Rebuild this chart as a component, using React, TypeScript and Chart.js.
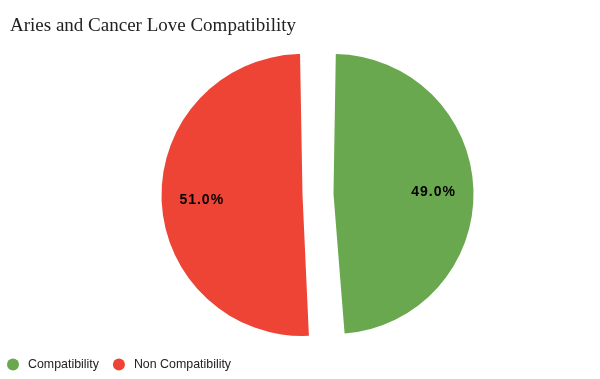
import { useEffect, useRef } from 'react';
import { Chart, registerables } from 'chart.js';

Chart.register(...registerables);

const chartTitle = 'Aries and Cancer Love Compatibility';
const categories = ['Compatibility', 'Non Compatibility'];
const values = [49, 51];
const colors = ['#6aa84f', '#ee4436'];

const shiftAreaPlugin = {
  id: 'shiftArea',
  afterLayout(chart: any) {
    chart.chartArea.left += 13;
    chart.chartArea.right += 13;
  },
};

const sliceLabelPlugin = {
  id: 'sliceLabels',
  afterDatasetsDraw(chart: any) {
    const ctx = chart.ctx;
    const meta = chart.getDatasetMeta(0);
    const data = chart.data.datasets[0].data as number[];
    const total = data.reduce((a: number, b: number) => a + b, 0);
    ctx.save();
    ctx.font = 'bold 14px "Liberation Sans", Arial, sans-serif';
    ctx.fillStyle = '#000000';
    ctx.textAlign = 'center';
    ctx.textBaseline = 'middle';
    (ctx as any).letterSpacing = '1px';
    meta.data.forEach((el: any, i: number) => {
      const p = el.getProps(['x', 'y', 'startAngle', 'endAngle', 'outerRadius', 'circumference']);
      const off = (el.options.offset || 0) / 4;
      const fix = 1 - Math.sin(Math.min(Math.PI, p.circumference));
      const r = p.outerRadius + off * fix;
      const mid = (p.startAngle + p.endAngle) / 2;
      const d = off + r * 0.715;
      const text = ((data[i] / total) * 100).toFixed(1) + '%';
      ctx.fillText(text, p.x + Math.cos(mid) * d, p.y + Math.sin(mid) * d + 1.5);
    });
    ctx.restore();
  },
};

const bottomLegendPlugin = {
  id: 'bottomLegend',
  afterDraw(chart: any) {
    const ctx = chart.ctx;
    const labels = chart.data.labels as string[];
    const bg = chart.data.datasets[0].backgroundColor as string[];
    let x = 13;
    const y = 364.5;
    ctx.save();
    ctx.font = '12.4px "Liberation Sans", Arial, sans-serif';
    ctx.textBaseline = 'middle';
    ctx.textAlign = 'left';
    labels.forEach((lab: string, i: number) => {
      ctx.fillStyle = bg[i];
      ctx.beginPath();
      ctx.arc(x, y, 6, 0, Math.PI * 2);
      ctx.fill();
      ctx.fillStyle = '#222222';
      ctx.fillText(lab, x + 15, y);
      x += 15 + ctx.measureText(lab).width + 20;
    });
    ctx.restore();
  },
};

export default function App() {
  const canvasRef = useRef<HTMLCanvasElement | null>(null);

  useEffect(() => {
    if (!canvasRef.current) return;
    const chart = new Chart(canvasRef.current, {
      type: 'pie',
      data: {
        labels: categories,
        datasets: [
          {
            data: values,
            backgroundColor: colors,
            borderWidth: 0,
            offset: 62,
            radius: 125.5,
          } as any,
        ],
      },
      options: {
        responsive: false,
        animation: false,
        layout: { padding: { left: 10, right: 0, top: 0, bottom: 37.8 } },
        plugins: {
          legend: { display: false },
          tooltip: { enabled: false },
          title: {
            display: true,
            text: chartTitle,
            align: 'start',
            color: '#222222',
            font: { family: '"Liberation Serif", serif', size: 19, weight: 'normal', lineHeight: 1.2 },
            padding: { top: 15, bottom: 10 },
          },
        },
      },
      plugins: [shiftAreaPlugin, sliceLabelPlugin, bottomLegendPlugin],
    });
    return () => chart.destroy();
  }, []);

  return (
    <div style={{ position: 'absolute', left: 0, top: 0, width: 600, height: 379, background: '#ffffff' }}>
      <canvas ref={canvasRef} width={600} height={379} />
    </div>
  );
}
